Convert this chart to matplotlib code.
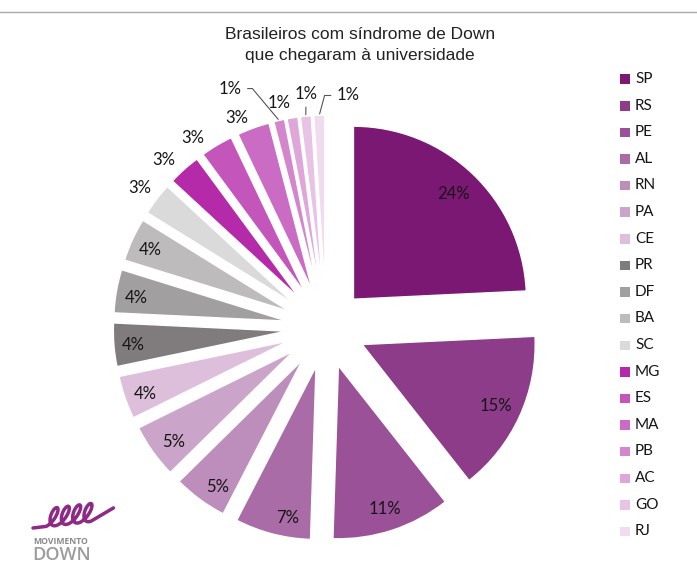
import numpy as np
import matplotlib.pyplot as plt
from matplotlib.lines import Line2D
from matplotlib.patches import Rectangle

# States and their share of students with Down syndrome (percent labels)
states = ['SP', 'RS', 'PE', 'AL', 'RN', 'PA', 'CE', 'PR', 'DF', 'BA',
          'SC', 'MG', 'ES', 'MA', 'PB', 'AC', 'GO', 'RJ']
shares = [24, 15, 11, 7, 5, 5, 4, 4, 4, 4, 3, 3, 3, 3, 1, 1, 1, 1]
colors = ['#7B1873', '#8D3C89', '#9B5198', '#AA6CA7', '#BD8EBB', '#CBA5C9',
          '#DDBFDB', '#807C7D', '#A19FA0', '#BDBBBC', '#DADADA', '#B52AA8',
          '#C455BA', '#CA6CC3', '#D486CD', '#DEA6D9', '#E8C3E5', '#F1DBEF']

title = "Brasileiros com síndrome de Down\nque chegaram à universidade"

W, H = 697, 582
R = 173.0           # pie radius in pixels
CX, CY = 326, 328   # pie centre, pixels from top-left

fig = plt.figure(figsize=(W / 100, H / 100), dpi=100)
ax = fig.add_axes([0, 0, 1, 1])

wedges, _ = ax.pie(shares, colors=colors, startangle=90, counterclock=False,
                   explode=[0.23] * len(shares), radius=1,
                   wedgeprops=dict(edgecolor='white', linewidth=1))
ax.set_xlim(-CX / R, (W - CX) / R)
ax.set_ylim(-(H - CY) / R, CY / R)
ax.set_aspect('auto')
ax.axis('off')

# label layout: (angle offset from wedge middle, distance, leader style)
label_layout = [(0, 1.07, None), (0, 1.08, None), (0, 1.10, None), (3, 1.12, None),
                (2, 1.11, None), (1.5, 1.10, None), (1, 1.11, None), (0.5, 1.12, None),
                (1, 1.11, None), (0.5, 1.11, None),
                (0.3, 1.35, None), (2.2, 1.35, None), (4.1, 1.34, None), (3, 1.32, None),
                (9, 1.49, 'angle,angleA=0,angleB=130'), (2.7, 1.33, None),
                (-0.6, 1.36, 'arc3'), (-7.2, 1.35, 'angle,angleA=0,angleB=75')]

lbl_font = dict(family='Lato', fontsize=12, color='#151515')
for w, val, (off, dist, leader) in zip(wedges, shares, label_layout):
    mid = np.deg2rad((w.theta1 + w.theta2) / 2)
    ang = mid + np.deg2rad(off)
    txt_pos = (dist * np.cos(ang), dist * np.sin(ang))
    if leader is None:
        ax.text(*txt_pos, f'{val}%', ha='center', va='center', **lbl_font)
    else:
        tip = (w.center[0] + 1.0 * np.cos(mid), w.center[1] + 1.0 * np.sin(mid))
        ax.annotate(f'{val}%', xy=tip, xytext=txt_pos, ha='center', va='center',
                    arrowprops=dict(arrowstyle='-', color='#555555', lw=0.8,
                                    connectionstyle=leader, shrinkA=2, shrinkB=1),
                    **lbl_font)

# title and top rule
fig.text(360 / W, 1 - 45 / H, title, ha='center', va='center',
         family='Liberation Sans', fontsize=12.5, color='#222222', linespacing=1.45)
fig.add_artist(Line2D([0, 1], [1 - 12 / H, 1 - 12 / H], color='#A8A8A8', lw=1))

# legend, drawn as squares + labels in figure pixels
for i, (st, col) in enumerate(zip(states, colors)):
    y = 79 + i * 26.6
    fig.add_artist(Rectangle((620 / W, 1 - (y + 5) / H), 9.5 / W, 9.5 / H,
                             transform=fig.transFigure, color=col, lw=0))
    fig.text(635 / W, 1 - y / H, st, ha='left', va='center',
             family='Lato', fontsize=11, color='#151515')

# "Movimento Down" logo
lx = fig.add_axes([0, 0, 1, 1], facecolor='none')
lx.set_xlim(0, W)
lx.set_ylim(H, 0)
lx.axis('off')
t = np.linspace(-0.9 * np.pi, 7.1 * np.pi, 600)
loop_y = -np.cos(t) * 9
sx = 53 + 1.8 * t - 5.5 * np.sin(t) + 0.4 * (-loop_y)
sy = 517 + loop_y - 0.12 * (sx - 53)
head = np.linspace(0, 1, 15)
tail = np.linspace(0, 1, 30)
sx = np.concatenate([33 + (sx[0] - 33) * head, sx, sx[-1] + 22 * tail])
sy = np.concatenate([528 + (sy[0] - 528) * head, sy, sy[-1] - 13 * tail])
lx.plot(sx, sy, color='#8E2A85', lw=2.5, solid_capstyle='round')
lx.text(33, 541, 'MOVIMENTO', family='Open Sans', fontsize=6.2, fontweight='bold',
        color='#8A8A8A', ha='left', va='center')
lx.text(32, 555, 'DOWN', family='Open Sans', fontsize=13, fontweight='semibold',
        color='#9C9C9C', ha='left', va='center')

fig.savefig('out.png', dpi=100, facecolor='white')
